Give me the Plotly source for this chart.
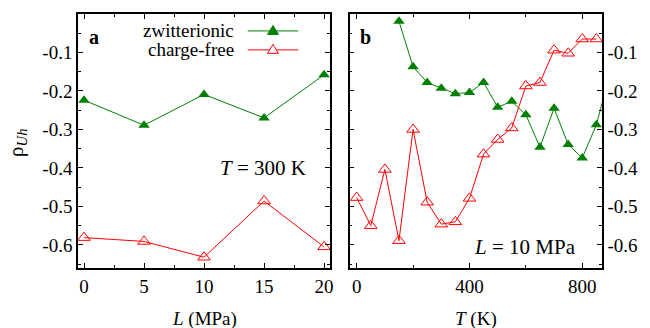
import plotly.graph_objects as go

# ---- data ----
L_vals = [0, 5, 10, 15, 20]
zw_L = [-0.224, -0.289, -0.209, -0.270, -0.158]
cf_L = [-0.581, -0.591, -0.632, -0.486, -0.605]

T_zw = [150, 200, 250, 300, 350, 400, 450, 500, 550, 600, 650, 700, 750, 800, 850, 900]
zw_T = [-0.019, -0.137, -0.178, -0.193, -0.207, -0.204, -0.178, -0.242, -0.227,
        -0.262, -0.346, -0.245, -0.339, -0.374, -0.288, -0.15]
T_cf = [0, 50, 100, 150, 200, 250, 300, 350, 400, 450, 500, 550, 600, 650, 700, 750, 800, 850]
cf_T = [-0.477, -0.550, -0.404, -0.589, -0.300, -0.489, -0.546, -0.540, -0.479, -0.364,
        -0.326, -0.296, -0.187, -0.178, -0.094, -0.102, -0.065, -0.065]

y_ticks = [-0.6, -0.5, -0.4, -0.3, -0.2, -0.1]
y_ticklabels = ["-0.6", "-0.5", "-0.4", "-0.3", "-0.2", "-0.1"]
L_ticks = [0, 5, 10, 15, 20]
T_ticks = [0, 400, 800]

GREEN = "#008000"
RED = "#ff0000"
FONT = "Liberation Serif"

W, H = 650, 328
ml, mr, mt, mb = 78, 44, 13, 60
pw, ph = W - ml - mr, H - mt - mb


def px(x):
    return (x - ml) / pw


def py(y):
    return (H - mb - y) / ph


fig = go.Figure()

fig.add_trace(go.Scatter(x=L_vals, y=zw_L, mode="lines+markers", xaxis="x", yaxis="y",
                         line=dict(color=GREEN, width=1),
                         marker=dict(symbol="triangle-up", size=10, color=GREEN),
                         showlegend=False))
fig.add_trace(go.Scatter(x=L_vals, y=cf_L, mode="lines+markers", xaxis="x", yaxis="y",
                         line=dict(color=RED, width=1),
                         marker=dict(symbol="triangle-up-open", size=11, color=RED,
                                     line=dict(width=1, color=RED)),
                         showlegend=False))
fig.add_trace(go.Scatter(x=T_zw, y=zw_T, mode="lines+markers", xaxis="x2", yaxis="y2",
                         line=dict(color=GREEN, width=1),
                         marker=dict(symbol="triangle-up", size=10, color=GREEN),
                         showlegend=False))
fig.add_trace(go.Scatter(x=T_cf, y=cf_T, mode="lines+markers", xaxis="x2", yaxis="y2",
                         line=dict(color=RED, width=1),
                         marker=dict(symbol="triangle-up-open", size=11, color=RED,
                                     line=dict(width=1, color=RED)),
                         showlegend=False))

common = dict(showline=True, linecolor="black", linewidth=1.5, mirror="ticks",
              ticks="inside", ticklen=5, tickwidth=1, tickcolor="black",
              showgrid=False, zeroline=False,
              tickfont=dict(family=FONT, size=19, color="black"))

yrange = [-0.66, 0.0]
x1_end = (332 - ml) / pw
x2_start = (351.7 - ml) / pw

fig.update_layout(
    width=W, height=H,
    margin=dict(l=ml, r=mr, t=mt, b=mb),
    paper_bgcolor="white", plot_bgcolor="white",
    xaxis=dict(domain=[0, x1_end], range=[-0.5, 20.5], anchor="y",
               tickvals=L_ticks, ticktext=[str(v) for v in L_ticks],
               minor=dict(ticks="inside", ticklen=3, dtick=2.5, tick0=0, tickcolor="black"),
               **common),
    yaxis=dict(domain=[0, 1], range=yrange, anchor="x", side="left",
               tickvals=y_ticks, ticktext=y_ticklabels,
               minor=dict(ticks="inside", ticklen=3, dtick=0.05, tick0=0, tickcolor="black"),
               **common),
    xaxis2=dict(domain=[x2_start, 1], range=[-25, 870], anchor="y2",
                tickvals=T_ticks, ticktext=[str(v) for v in T_ticks],
                minor=dict(ticks="inside", ticklen=3, dtick=200, tick0=0, tickcolor="black"),
                **common),
    yaxis2=dict(domain=[0, 1], range=yrange, anchor="x2", side="right",
                tickvals=y_ticks, ticktext=y_ticklabels,
                minor=dict(ticks="inside", ticklen=3, dtick=0.05, tick0=0, tickcolor="black"),
                **common),
)

for text, x, y, size, xanchor, angle in [
    ("<b>a</b>", 94, 36, 20, "center", 0),
    ("<b>b</b>", 368, 36, 20, "center", 0),
    ("<i>T</i> = 300 K", 264, 168, 21, "center", 0),
    ("<i>L</i> = 10 MPa", 528, 247, 21, "center", 0),
    ("<i>L</i> (MPa)", 205, 319, 19, "center", 0),
    ("<i>T</i> (K)", 479, 319, 19, "center", 0),
    ("ρ<sub><i>Uh</i></sub>", 17, 142, 21, "center", -90),
    ("zwitterionic", 237, 30, 19, "right", 0),
    ("charge-free", 237, 49, 19, "right", 0),
]:
    fig.add_annotation(text=text, x=px(x), y=py(y), xref="paper", yref="paper",
                       xanchor=xanchor, yanchor="middle", showarrow=False, textangle=angle,
                       font=dict(family=FONT, size=size, color="black"))

# legend samples (drawn as shapes in paper space)
for yy, col, filled in [(30, GREEN, True), (49, RED, False)]:
    fig.add_shape(type="line", xref="paper", yref="paper",
                  x0=px(249), x1=px(300), y0=py(yy), y1=py(yy),
                  line=dict(color=col, width=1))
    cx = 274.5
    path = "M {:.5f},{:.5f} L {:.5f},{:.5f} L {:.5f},{:.5f} Z".format(
        px(cx - 5.5), py(yy + 3.5), px(cx + 5.5), py(yy + 3.5), px(cx), py(yy - 5.5))
    fig.add_shape(type="path", xref="paper", yref="paper", path=path,
                  fillcolor=col if filled else "white",
                  line=dict(color=col, width=1))

fig.write_html("out.html")
